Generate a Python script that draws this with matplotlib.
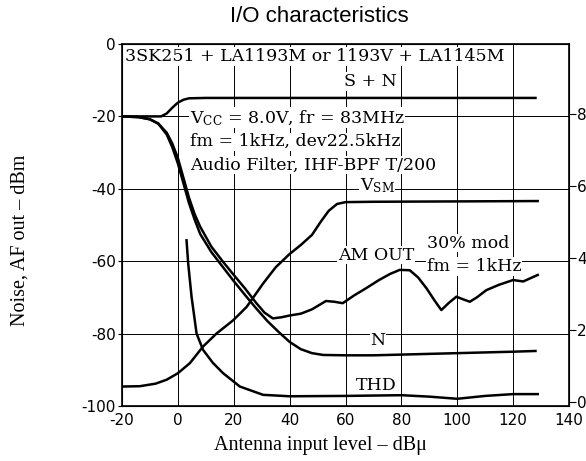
import matplotlib
matplotlib.use("Agg")
import matplotlib.pyplot as plt

# ---------------- data ----------------
# x: antenna input level (dBu); left axis: dBm; right axis: V (VSM) / % (THD)
sn_x = [-20, -10, -6, -4, -2, 0, 2, 4, 10, 30, 60, 90, 128]
sn_y = [-20, -20, -20, -19.2, -17.6, -16.2, -15.4, -15.0, -14.9, -14.9, -14.9, -14.9, -14.9]

n_x = [-20, -14, -10, -7, -4, -2, 0, 2, 4, 6, 8, 12, 16, 20, 24, 28, 32, 36, 40, 44, 48, 52,
       60, 70, 80, 90, 100, 110, 120, 128]
n_y = [-20, -20.2, -20.8, -22, -25, -28.5, -33, -38.5, -44, -48.5, -52.5, -57.5, -61.5, -65.5,
       -69.3, -73, -76.5, -79.5, -82.3, -84.3, -85.4, -85.9, -86, -86, -85.8, -85.6, -85.4,
       -85.2, -85, -84.8]

am_x = [-20, -14, -10, -7, -4, -2, 0, 2, 4, 6, 8, 12, 16, 20, 24, 28, 31, 34, 37, 40, 44, 48,
        53, 56, 59, 63, 67.5, 72, 76, 79.4, 83, 86, 89, 92, 94.3, 97, 99.7, 102, 104.5, 107,
        110.4, 115, 120, 123.6, 128.8]
am_y = [-20, -20.2, -20.8, -22, -24.5, -27.5, -31.5, -37, -42.5, -47, -50.5, -56, -60, -63.8,
        -67.5, -71.5, -74.2, -75.8, -75.5, -75, -74.5, -73.3, -71, -71.2, -71.6, -69.5, -67.4,
        -65.2, -63.5, -62.4, -62.5, -64.5, -67.5, -71, -73.5, -71.5, -69.8, -70.5, -71.2,
        -70, -68, -66.5, -65.2, -65.6, -63.8]

thd_x = [3.1, 3.7, 4.9, 6.7, 9, 12.5, 16.2, 22.2, 30.5, 40, 60, 80, 90, 100, 105, 110, 120, 128.8]
thd_y = [4.5, 3.85, 2.93, 1.91, 1.46, 1.1, 0.81, 0.44, 0.21, 0.17, 0.18, 0.2, 0.16, 0.1, 0.14,
         0.18, 0.23, 0.23]

vsm_x = [-20, -13.6, -8, -4, 0, 4.3, 9, 13.8, 19.8, 24.6, 30.5, 35, 40, 44, 48, 51, 54, 57,
         60, 70, 100, 128.8]
vsm_y = [0.44, 0.45, 0.52, 0.63, 0.81, 1.09, 1.55, 1.91, 2.28, 2.65, 3.3, 3.75, 4.12, 4.37,
         4.65, 5.0, 5.32, 5.51, 5.56, 5.57, 5.58, 5.59]

x_ticks = [-20, 0, 20, 40, 60, 80, 100, 120, 140]
y_ticks = [-100, -80, -60, -40, -20, 0]
r_ticks = [0, 2, 4, 6, 8]

# ---------------- figure ----------------
plt.rcParams['mathtext.fontset'] = 'dejavuserif'
plt.rcParams['axes.unicode_minus'] = False
fig = plt.figure(figsize=(5.86, 4.61), dpi=100)
ax = fig.add_axes([122/586, 1-406/461, (569-122)/586, (406-44)/461])
ax.set_xlim(-20, 140)
ax.set_ylim(-100, 0)
ax.set_xticks(x_ticks)
ax.set_yticks(y_ticks)
ax.grid(True, color='black', linewidth=0.7, zorder=1)
ax.set_axisbelow(True)
for s in ax.spines.values():
    s.set_linewidth(1.2)
tfs = 11
ax.tick_params(axis='y', direction='out', length=3, width=0.8, pad=1.5)
ax.tick_params(axis='x', direction='out', length=0, pad=5)
for lab in ax.get_xticklabels() + ax.get_yticklabels():
    lab.set_fontfamily('DejaVu Sans')
    lab.set_fontsize(tfs)

lw = 1.8
ax.plot(sn_x, sn_y, color='black', lw=lw, zorder=4)
ax.plot(n_x, n_y, color='black', lw=lw, zorder=4)
ax.plot(am_x, am_y, color='black', lw=lw, zorder=4)

ax2 = ax.twinx()
ax2.set_ylim(-0.1, 9.95)
ax2.set_yticks(r_ticks)
ax2.tick_params(axis='y', direction='out', length=5, width=0.8, pad=1)
for lab in ax2.get_yticklabels():
    lab.set_fontfamily('DejaVu Sans')
    lab.set_fontsize(tfs)
ax2.plot(thd_x, thd_y, color='black', lw=lw, zorder=4)
ax2.plot(vsm_x, vsm_y, color='black', lw=lw, zorder=4)

serif = dict(family='DejaVu Serif', size=12.5, color='black', zorder=3)
wb = dict(facecolor='white', edgecolor='none', pad=0.5)

ax.text(-19, -3.5, "3SK251 + LA1193M or 1193V + LA1145M", ha='left', va='center', bbox=wb, **serif)
ax.text(69, -10.4, "S + N", ha='center', va='center', bbox=wb, **serif)
ax.text(4.3, -20.4, "V$_\\mathregular{CC}$ = 8.0V, fr = 83MHz", ha='left', va='center', bbox=wb, **serif)
ax.text(4.3, -27, "fm = 1kHz, dev22.5kHz", ha='left', va='center', bbox=wb, **serif)
ax.text(4.3, -33.4, "Audio Filter, IHF-BPF T/200", ha='left', va='center', bbox=wb, **serif)
ax.text(71.3, -39, "V$_\\mathregular{SM}$", ha='center', va='center', bbox=wb, **serif)
ax.text(71, -58.3, "AM OUT", ha='center', va='center', bbox=wb, **serif)
ax.text(89, -55, "30% mod", ha='left', va='center', bbox=wb, **serif)
ax.text(89, -61.5, "fm = 1kHz", ha='left', va='center', bbox=wb, **serif)
ax.text(71.6, -81.8, "N", ha='center', va='center', bbox=wb, **serif)
ax.text(71, -94.2, "THD", ha='center', va='center', bbox=wb, **serif)

fig.text(319/586, 1-17/461, "I/O characteristics", ha='center', va='center',
         family='Liberation Sans', size=16)
fig.text(320/586, 1-445/461, "Antenna input level – dBμ", ha='center', va='center',
         family='Liberation Serif', size=14.5)
fig.text(20/586, 1-240/461, "Noise, AF out – dBm", ha='center', va='center', rotation=90,
         family='Liberation Serif', size=14.5)

fig.savefig("out.png", dpi=100)
